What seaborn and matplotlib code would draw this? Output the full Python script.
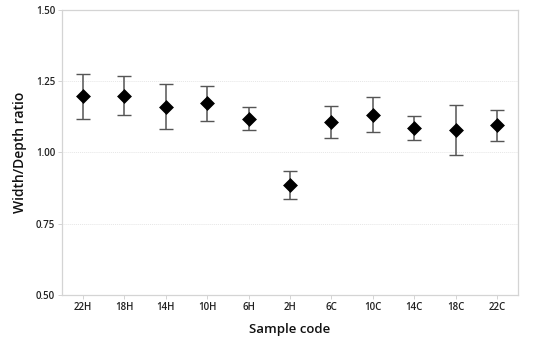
import matplotlib
matplotlib.use("Agg")
import matplotlib.pyplot as plt
import seaborn as sns
import pandas as pd
import numpy as np

samples = ["22H", "18H", "14H", "10H", "6H", "2H", "6C", "10C", "14C", "18C", "22C"]
means = [1.197, 1.199, 1.161, 1.173, 1.118, 0.886, 1.107, 1.133, 1.087, 1.079, 1.095]
upper = [1.275, 1.267, 1.240, 1.233, 1.159, 0.935, 1.163, 1.194, 1.129, 1.166, 1.148]
lower = [1.119, 1.130, 1.084, 1.112, 1.078, 0.836, 1.051, 1.071, 1.043, 0.990, 1.041]
yticks = [0.50, 0.75, 1.00, 1.25, 1.50]

sns.set_theme(style="white")
plt.rcParams['font.family'] = ['Open Sans', 'DejaVu Sans']

df = pd.DataFrame({"sample": samples, "mean": means, "upper": upper, "lower": lower})

fig = plt.figure(figsize=(5.5, 3.43), dpi=100)
ax = fig.add_axes([0.1127, 0.14, 0.8291, 0.8308])

xpos = np.arange(len(samples))
err = [df["mean"] - df["lower"], df["upper"] - df["mean"]]
ax.errorbar(xpos, df["mean"], yerr=err, fmt="none", ecolor="#555555",
            elinewidth=1.1, capsize=5, capthick=1.0, zorder=2)
sns.scatterplot(data=df, x=xpos, y="mean", marker="D", s=50, color="black",
                edgecolor="black", linewidth=0.5, ax=ax, zorder=3, legend=False)

ax.set_xlim(-0.5, len(samples) - 0.5)
ax.set_ylim(0.5, 1.5)
ax.set_xticks(xpos)
ax.set_xticklabels(samples)
ax.set_yticks(yticks)
ax.set_yticklabels([f"{v:.2f}" for v in yticks])
for v in yticks[1:-1]:
    ax.axhline(v, color="#e6e6e6", lw=0.7, ls=(0, (1, 1)), zorder=0)

for s in ax.spines.values():
    s.set_color("#d4d4d4")
    s.set_linewidth(0.9)
ax.tick_params(axis="both", which="both", length=3, width=0.6, color="#cccccc",
               labelsize=7, pad=2, bottom=True, left=True)
for lab in ax.get_xticklabels() + ax.get_yticklabels():
    lab.set_fontweight("semibold")
    lab.set_color("#222222")

ax.set_xlabel("Sample code", fontsize=9.5, fontweight="semibold", color="#111111", labelpad=7)
ax.set_ylabel("Width/Depth ratio", fontsize=10, fontweight="semibold", color="#111111", labelpad=6)

fig.savefig("out.png", dpi=100, facecolor="white")
